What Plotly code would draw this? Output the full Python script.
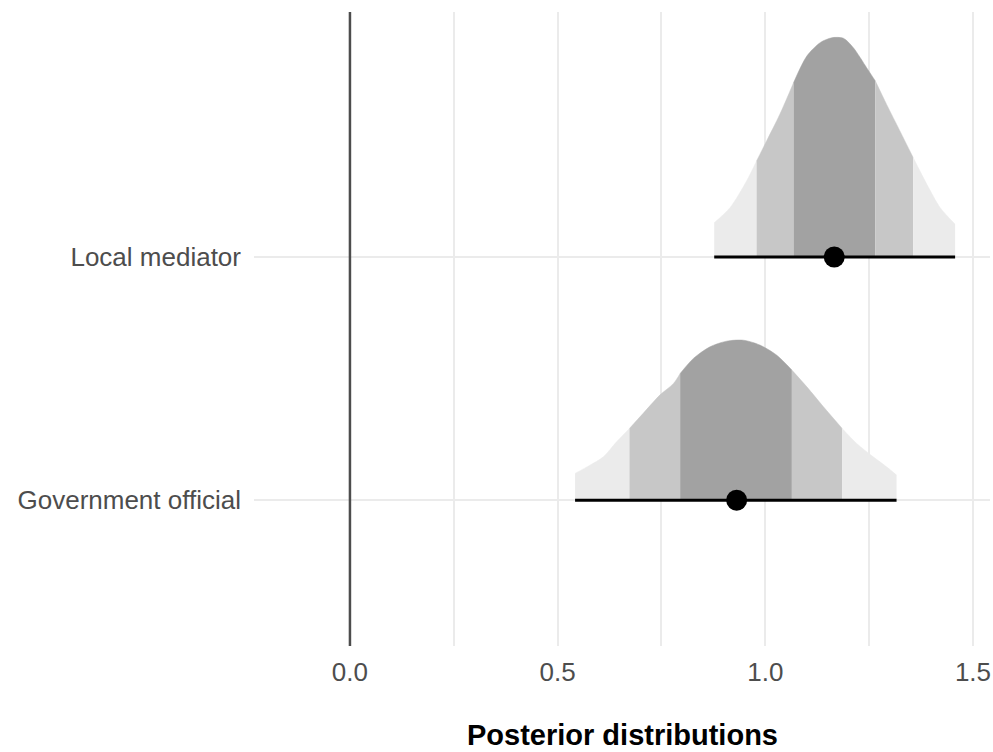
import numpy as np
import plotly.graph_objects as go

# Categories and their row positions on the y axis
categories = ["Government official", "Local mediator"]
row_pos = [1, 2]

# Posterior density outlines (x value, density height in row units)
gov_x = [0.542, 0.578, 0.610, 0.642, 0.673, 0.706, 0.746, 0.779, 0.795, 0.827,
         0.867, 0.907, 0.947, 0.987, 1.027, 1.064, 1.100, 1.140, 1.185, 1.220,
         1.260, 1.292, 1.316]
gov_h = [0.110, 0.144, 0.178, 0.240, 0.295, 0.357, 0.432, 0.480, 0.521, 0.583,
         0.631, 0.654, 0.658, 0.638, 0.597, 0.535, 0.466, 0.384, 0.295, 0.233,
         0.178, 0.137, 0.103]

loc_x = [0.877, 0.915, 0.955, 0.979, 1.003, 1.035, 1.068, 1.100, 1.132, 1.160,
         1.188, 1.212, 1.244, 1.265, 1.292, 1.324, 1.356, 1.389, 1.421, 1.457]
loc_h = [0.141, 0.203, 0.313, 0.395, 0.477, 0.587, 0.717, 0.827, 0.882, 0.902,
         0.900, 0.861, 0.779, 0.724, 0.628, 0.519, 0.409, 0.299, 0.203, 0.135]

# Interval bounds: outer (lo, hi), middle (lo, hi), inner (lo, hi)
gov_bounds = [0.542, 0.673, 0.795, 1.064, 1.185, 1.316]
loc_bounds = [0.877, 0.979, 1.068, 1.265, 1.356, 1.457]

# Point estimates
gov_point = 0.931
loc_point = 1.166

band_colors = ["#ebebeb", "#c7c7c7", "#a2a2a2", "#c7c7c7", "#ebebeb"]

fig = go.Figure()


def add_density(xs, hs, bounds, base):
    xs = np.array(xs)
    hs = np.array(hs)
    for i in range(len(bounds) - 1):
        lo, hi = bounds[i], bounds[i + 1]
        m = (xs >= lo - 1e-9) & (xs <= hi + 1e-9)
        bx = xs[m]
        bh = hs[m] + base
        fig.add_trace(go.Scatter(x=bx, y=[base] * len(bx), mode="lines",
                                 line=dict(width=0), hoverinfo="skip",
                                 showlegend=False))
        fig.add_trace(go.Scatter(x=bx, y=bh, mode="lines", fill="tonexty",
                                 fillcolor=band_colors[i],
                                 line=dict(width=0.5, color=band_colors[i],
                                           shape="spline", smoothing=0.8),
                                 hoverinfo="skip", showlegend=False))


add_density(gov_x, gov_h, gov_bounds, row_pos[0])
add_density(loc_x, loc_h, loc_bounds, row_pos[1])

# Interval lines and point estimates
for bounds, pt, base in [(gov_bounds, gov_point, row_pos[0]),
                         (loc_bounds, loc_point, row_pos[1])]:
    fig.add_trace(go.Scatter(x=[bounds[0], bounds[-1]], y=[base, base],
                             mode="lines", line=dict(color="black", width=3),
                             showlegend=False, hoverinfo="skip"))
    fig.add_trace(go.Scatter(x=[pt], y=[base], mode="markers",
                             marker=dict(color="black", size=21),
                             showlegend=False))

# Reference line at zero
fig.add_shape(type="line", x0=0, x1=0, y0=0, y1=1, xref="x", yref="paper",
              line=dict(color="#4d4d4d", width=2.5), layer="above")

fig.update_layout(
    width=993, height=752,
    margin=dict(l=254, r=3, t=12, b=106),
    paper_bgcolor="white", plot_bgcolor="white",
    font=dict(family="Liberation Sans, Arial, sans-serif", color="#4d4d4d", size=26),
    xaxis=dict(range=[-0.231, 1.541], tickvals=[0, 0.5, 1.0, 1.5],
               ticktext=["0.0", "0.5", "1.0", "1.5"],
               showgrid=True, gridcolor="#ebebeb", gridwidth=2,
               minor=dict(tickvals=[0.25, 0.75, 1.25], showgrid=True,
                          gridcolor="#ebebeb", gridwidth=1.5),
               zeroline=False, showline=False, ticks="",
               ticklabelstandoff=8, tickfont=dict(size=26, color="#4d4d4d")),
    yaxis=dict(range=[0.4, 3.008], tickvals=row_pos, ticktext=categories,
               showgrid=True, gridcolor="#ebebeb", gridwidth=2,
               zeroline=False, showline=False, ticks="",
               ticklabelstandoff=12, tickfont=dict(size=26, color="#4d4d4d")),
)

fig.add_annotation(text="<b>Posterior distributions</b>", xref="paper", yref="paper",
                   x=0.5, y=-0.140, xanchor="center", yanchor="middle",
                   showarrow=False, font=dict(size=29, color="black"))

fig.write_html("out.html")
